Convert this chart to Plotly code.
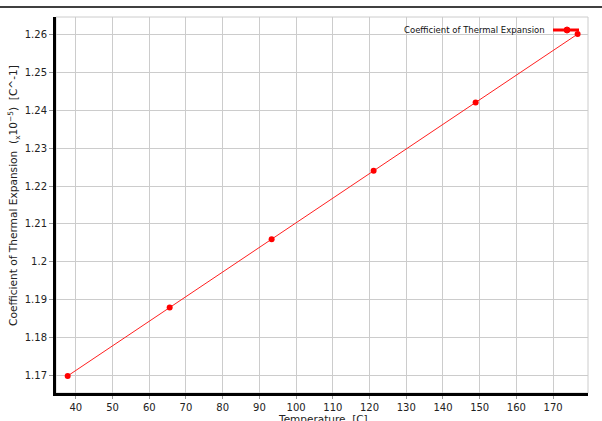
import plotly.graph_objects as go

temperature_c = [37.78, 65.56, 93.33, 121.11, 148.89, 176.67]
cte_values = [1.170, 1.188, 1.206, 1.224, 1.242, 1.260]
series_name = "Coefficient of Thermal Expansion"
x_title = "Temperature  [C]"
y_title = "Coefficient of Thermal Expansion  (<sub>x</sub>10<sup>−5</sup>)  [C^-1]"

W, H = 602, 421
ml, mr, mt, mb = 56, 14, 17, 28
pw, ph = W - ml - mr, H - mt - mb

fig = go.Figure()
fig.add_trace(go.Scatter(
    x=temperature_c, y=cte_values, name=series_name, mode="lines+markers",
    line=dict(color="#ff2020", width=1),
    marker=dict(color="#ff0000", size=6, symbol="circle"),
    showlegend=False,
))

grid = "#cccccc"
fig.update_layout(
    width=W, height=H,
    margin=dict(l=ml, r=mr, t=mt, b=mb, autoexpand=False),
    paper_bgcolor="white", plot_bgcolor="white",
    font=dict(family="DejaVu Sans", size=10, color="#222222"),
    xaxis=dict(range=[34.6, 179.5], dtick=10, tick0=0, showgrid=True, gridcolor=grid,
               gridwidth=1, zeroline=False, showline=True, linecolor="black", linewidth=3,
               ticks="outside", ticklen=3, tickcolor="#999999", automargin=False),
    yaxis=dict(range=[1.1655, 1.2645], dtick=0.01, tick0=0, showgrid=True, gridcolor=grid,
               gridwidth=1, zeroline=False, showline=True, linecolor="black", linewidth=3,
               ticks="outside", ticklen=4, tickcolor="#999999", automargin=False),
)

# axis titles
fig.add_annotation(text=x_title, xref="paper", yref="paper",
                   x=(323 - ml) / pw, y=-(419 - (H - mb)) / ph, xanchor="center", yanchor="middle",
                   showarrow=False, font=dict(size=10.5))
fig.add_annotation(text=y_title, xref="paper", yref="paper", textangle=-90,
                   x=-(ml - 14) / pw, y=1 - (196 - mt) / ph, xanchor="center", yanchor="middle",
                   showarrow=False, font=dict(size=10.6))

# plot frame (light) on top/right
fig.add_shape(type="rect", xref="paper", yref="paper", x0=0, y0=0, x1=1, y1=1,
              line=dict(color="#cccccc", width=1), layer="below")
# top page line
fig.add_shape(type="line", xref="paper", yref="paper",
              x0=-ml / pw, x1=1 + mr / pw, y0=1 + 10 / ph, y1=1 + 10 / ph,
              line=dict(color="black", width=1.5))

# custom legend (text left of symbol)
ly = 1 - (30 - mt) / ph
lx0 = (553 - ml) / pw
lx1 = (579 - ml) / pw
fig.add_shape(type="line", xref="paper", yref="paper", x0=lx0, x1=lx1, y0=ly, y1=ly,
              line=dict(color="#ff0000", width=3))
mx = (567 - ml) / pw
fig.add_shape(type="circle", xref="paper", yref="paper",
              x0=mx - 3 / pw, x1=mx + 3 / pw, y0=ly - 3 / ph, y1=ly + 3 / ph,
              line=dict(color="#ff0000", width=1), fillcolor="#ff0000")
fig.add_annotation(text=series_name, xref="paper", yref="paper",
                   x=(547 - ml) / pw, y=ly, xanchor="right", yanchor="middle",
                   showarrow=False, font=dict(size=8.5, color="#111111"))

fig.write_html("out.html", config={"displayModeBar": False},
               post_script="document.body.style.margin='0';document.body.style.overflow='hidden';")
